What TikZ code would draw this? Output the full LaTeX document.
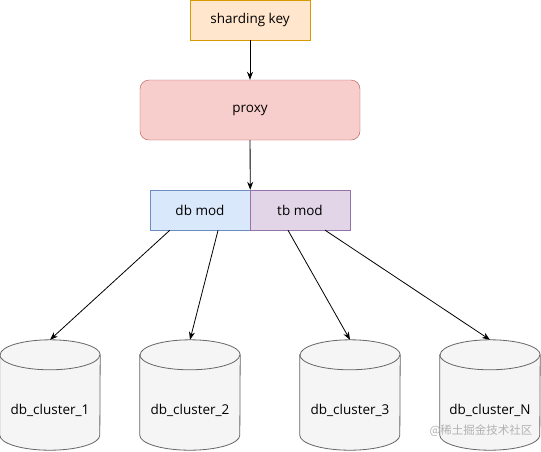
\documentclass[tikz,border=0pt]{standalone}
\usepackage{fontspec}
\setmainfont{Open Sans}
\newfontfamily\cjk{Noto Sans CJK SC}
\usetikzlibrary{arrows.meta,calc}
\definecolor{keyfill}{HTML}{FFE6CC}
\definecolor{keydraw}{HTML}{D79B00}
\definecolor{proxyfill}{HTML}{F8CECC}
\definecolor{proxydraw}{HTML}{B85450}
\definecolor{dbfill}{HTML}{DAE8FC}
\definecolor{dbdraw}{HTML}{6C8EBF}
\definecolor{tbfill}{HTML}{E1D5E7}
\definecolor{tbdraw}{HTML}{9673A6}
\definecolor{cylfill}{HTML}{F5F5F5}
\definecolor{cyldraw}{HTML}{666666}
\tikzset{
  x=1pt,y=1pt,
  every node/.style={font=\fontsize{13.5}{16}\selectfont, inner sep=0pt},
  keybox/.style={draw=keydraw, fill=keyfill, minimum width=120, minimum height=40},
  proxybox/.style={draw=proxydraw, fill=proxyfill, rounded corners=9, minimum width=220, minimum height=60},
  dbbox/.style={draw=dbdraw, fill=dbfill, minimum width=100, minimum height=40},
  tbbox/.style={draw=tbdraw, fill=tbfill, minimum width=100, minimum height=40},
  cylbox/.style={minimum width=100, minimum height=110},
  cylline/.style={draw=cyldraw, fill=cylfill, line width=0.8},
  conn/.style={-{Stealth[length=8,width=6]}, line width=0.8, black},
}
\newcommand\dbcylinder[3]{%
  \node[cylbox] (#1) at (#2,-395) {};
  \path[cylline] ($(#1.north west)+(0,-15)$) -- ($(#1.south west)+(0,15)$)
     arc[start angle=180,end angle=360,x radius=50,y radius=15]
     -- ($(#1.north east)+(0,-15)$)
     arc[start angle=0,end angle=180,x radius=50,y radius=15] -- cycle;
  \draw[cyldraw, line width=0.8] ($(#1.north west)+(0,-15)$)
     arc[start angle=180,end angle=360,x radius=50,y radius=15];
  \node (#1t) at ($(#1.center)+(0,-15)$) {#3};
}
\begin{document}
\begin{tikzpicture}
\useasboundingbox[fill=white] (0,0) rectangle (541,-451);
\node[keybox] (key) at (250,-20) {sharding key};
\node[proxybox] (proxy) at (250,-110) {proxy};
\node[dbbox] (db) at (200,-210) {db mod};
\node[tbbox] (tb) at (300,-210) {tb mod};
\draw[conn] (key) -- (proxy);
\draw[conn] (proxy) -- (db.north east);
\dbcylinder{c1}{50}{db\_cluster\_1}
\dbcylinder{c2}{190}{db\_cluster\_2}
\dbcylinder{c3}{350}{db\_cluster\_3}
\dbcylinder{c4}{490}{db\_cluster\_N}
\draw[conn] ($(db.south west)!0.2!(db.south east)$) -- (c1.north);
\draw[conn] ($(db.south west)!0.68!(db.south east)$) -- (c2.north);
\draw[conn] ($(tb.south west)!0.38!(tb.south east)$) -- (c3.north);
\draw[conn] ($(tb.south west)!0.75!(tb.south east)$) -- (c4.north);
\node[font=\cjk\fontsize{11.5}{13}\selectfont, text=black!30] (wm) at (481,-431) {@稀土掘金技术社区};
\end{tikzpicture}
\end{document}
